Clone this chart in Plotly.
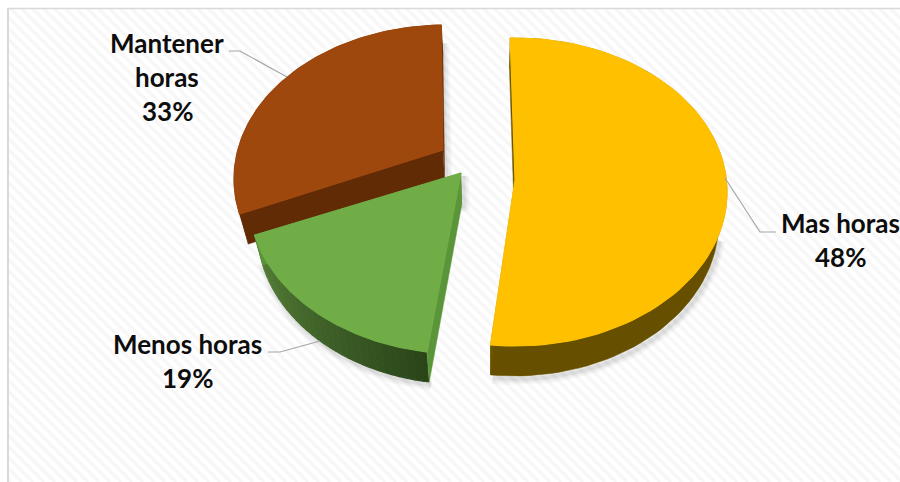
import numpy as np
import plotly.graph_objects as go

# ---- data ----
categories = ["Mas horas", "Menos horas", "Mantener horas"]
label_percent = [48, 19, 33]          # percentages printed on the chart
drawn_share = [52.2, 19.5, 28.3]      # share of the circle each slice occupies in the picture

# ---- styles / geometry (pixel axes) ----
W, H = 900, 482
start_angle = -1.3
start_gap = [0, 2.6, 0]
A, B = 212, 154
tips = [(515, 180), (461, 173), (443, 150)]
ellipse_centres = [(515, 192), (461, 200), (446, 179)]
top_colors = ["#ffc000", "#70ad47", "#9e480e"]
rim_colors = [("#665000", "#665000"), ("#557f38", "#2a4519"), ("#612b06", "#612b06")]
cut_colors = ["#6b5400", "#5b9539", "#612b06"]
DEPTH = 30
VX = 490
PERSP = 0.965


def under(x, y):
    return VX + (np.asarray(x) - VX) * PERSP, np.asarray(y) + DEPTH


def mix(c1, c2, t):
    a = [int(c1[i:i + 2], 16) for i in (1, 3, 5)]
    b = [int(c2[i:i + 2], 16) for i in (1, 3, 5)]
    return "rgb(%d,%d,%d)" % tuple(round(u + (v - u) * t) for u, v in zip(a, b))


def poly(xs, ys, color, lw=0.5):
    return go.Scatter(x=list(xs), y=list(ys), mode="lines", fill="toself", fillcolor=color,
                      line=dict(color=color, width=lw), hoverinfo="skip", showlegend=False)


fig = go.Figure()

# hatched background
sx, sy = [], []
for c in np.arange(-H, W + H, 11.0):
    sx += [c, c + H, None]
    sy += [0, H, None]
fig.add_trace(go.Scatter(x=sx, y=sy, mode="lines", line=dict(color="#f7f7f7", width=3.5),
                         hoverinfo="skip", showlegend=False))

# slice angles from the shares
edges = start_angle + np.cumsum([0] + drawn_share) * 3.6
slices = []
for i in range(len(categories)):
    th = np.radians(np.linspace(edges[i] + start_gap[i], edges[i + 1], 90))
    ex, ey = ellipse_centres[i]
    slices.append((ex + A * np.sin(th), ey - B * np.cos(th)))

# draw far slice first, yellow and green afterwards
for i in [2, 0, 1]:
    ax, ay = slices[i]
    tx, ty = tips[i]
    bx, by = under(ax, ay)
    btx, bty = under(tx, ty)
    # soft shadow along the edges that face away from the light
    if i == 0:
        front = by > ellipse_centres[i][1] + DEPTH + 10
        ox, oy = bx[front], by[front]
    elif i == 1:
        ox, oy = np.r_[bx, btx, tx], np.r_[by, bty, ty]
    else:
        ox, oy = np.r_[ax[-1], tx, btx], np.r_[ay[-1] + 15, ty, bty]
    for w, alpha in [(12, 0.03), (8, 0.04), (4, 0.06)]:
        fig.add_trace(go.Scatter(x=ox + 2, y=oy + 3, mode="lines",
                                 line=dict(color=f"rgba(0,0,0,{alpha})", width=w),
                                 hoverinfo="skip", showlegend=False))
    # outer rim
    c1, c2 = rim_colors[i]
    if i == 1:
        seg = 30
        n = len(ax)
        for k in range(seg):
            a0 = k * (n - 1) // seg
            a1 = (k + 1) * (n - 1) // seg + 1
            color = mix(c1, c2, 1 - k / (seg - 1))
            fig.add_trace(poly(np.r_[ax[a0:a1], bx[a0:a1][::-1]], np.r_[ay[a0:a1], by[a0:a1][::-1]], color, 1.2))
    else:
        fig.add_trace(poly(np.r_[ax, bx[::-1]], np.r_[ay, by[::-1]], c1))
    # cut faces
    for end in (0, -1):
        fig.add_trace(poly([tx, ax[end], bx[end], btx], [ty, ay[end], by[end], bty], cut_colors[i]))
    # top face
    fig.add_trace(poly(np.r_[tx, ax, tx], np.r_[ty, ay, ty], top_colors[i], 1.2))

# leader lines
leader_x = [[776, 760, 725], [268, 280, 320], [229, 240, 287]]
leader_y = [[232, 232, 178], [352, 352, 341], [51, 51, 77]]
for lx, ly in zip(leader_x, leader_y):
    fig.add_trace(go.Scatter(x=lx, y=ly, mode="lines", line=dict(color="#a6a6a6", width=1.2),
                             hoverinfo="skip", showlegend=False))

# data labels
label_lines = [["Mas horas", f"{label_percent[0]}%"],
               ["Menos horas", f"{label_percent[1]}%"],
               ["Mantener", "horas", f"{label_percent[2]}%"]]
label_pos = [(840, 223), (187, 344), (167, 43)]
annotations = []
for lines, (lx, ly) in zip(label_lines, label_pos):
    for j, txt in enumerate(lines):
        annotations.append(dict(x=lx, y=ly + 34 * j, text=f"<b>{txt}</b>", showarrow=False,
                                xanchor="center", yanchor="middle",
                                font=dict(family="Lato", size=26, color="#0d0d0d")))

fig.update_layout(
    width=W, height=H, margin=dict(l=0, r=0, t=0, b=0),
    paper_bgcolor="white", plot_bgcolor="white", showlegend=False,
    xaxis=dict(range=[0, W], visible=False, fixedrange=True),
    yaxis=dict(range=[H, 0], visible=False, fixedrange=True),
    annotations=annotations,
    shapes=[
        dict(type="rect", x0=0, x1=W, y0=0, y1=8, fillcolor="white", line_width=0, layer="above"),
        dict(type="rect", x0=0, x1=8, y0=0, y1=H, fillcolor="white", line_width=0, layer="above"),
        dict(type="line", x0=8, x1=W, y0=8.5, y1=8.5, line=dict(color="#d9d9d9", width=1.5), layer="above"),
        dict(type="line", x0=8, x1=8, y0=8, y1=H, line=dict(color="#d9d9d9", width=2), layer="above"),
    ],
)
fig.write_html("out.html", config={"displayModeBar": False},
               post_script="document.body.style.margin='0';document.body.style.overflow='hidden';")
